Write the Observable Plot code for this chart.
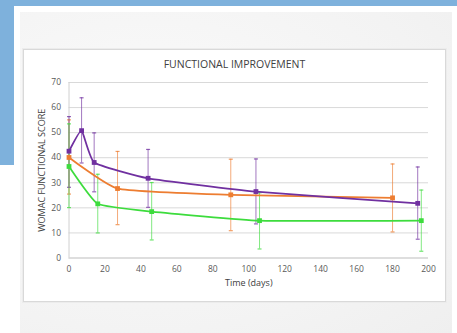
<!DOCTYPE html>
<html>
<head>
<meta charset="utf-8">
<script src="https://cdn.jsdelivr.net/npm/d3@7"></script>
<script src="https://cdn.jsdelivr.net/npm/@observablehq/plot@0.6"></script>
<style>
  html, body { margin: 0; padding: 0; background: #ffffff; }
  #page { position: relative; width: 457px; height: 333px; overflow: hidden; background: #ffffff; font-family: "Open Sans", sans-serif; }
  .blue-top { position: absolute; left: 0; top: 0; width: 457px; height: 6px; background: #7eb1dc; }
  .blue-left { position: absolute; left: 0; top: 0; width: 14px; height: 165px; background: #7eb1dc; }
  .card { position: absolute; left: 20px; top: 12px; width: 432px; height: 321px;
          background: radial-gradient(ellipse at 30% 40%, #fbfbfb 0%, #f3f3f3 70%, #efefef 100%); }
  .box { position: absolute; left: 23px; top: 49px; width: 421px; height: 251px; background: #ffffff;
         border: 1px solid #d9d9d9; box-shadow: 0 0 0 1px #ececec; }
  .title { position: absolute; left: 23px; top: 57px; width: 423px; text-align: center;
           font-size: 10.5px; color: #404040; letter-spacing: 0px; }
  #chart { position: absolute; left: 23px; top: 49px; }
</style>
</head>
<body>
<div id="page">
  <div class="blue-top"></div>
  <div class="blue-left"></div>
  <div class="card"></div>
  <div class="box"></div>
  <div class="title">FUNCTIONAL IMPROVEMENT</div>
  <div id="chart"></div>
</div>
<script>
// ---- data ----
const purpleDays  = [0, 7, 14, 44, 104, 194];
const purpleScore = [42.6, 50.8, 38.1, 31.8, 26.5, 21.8];
const purpleHigh  = [56.4, 63.9, 49.9, 43.3, 39.5, 36.3];
const purpleLow   = [28.2, 37.9, 26.4, 20.2, 13.6, 7.5];

const orangeDays  = [0, 27, 90, 180];
const orangeScore = [40.1, 27.7, 25.2, 24.0];
const orangeHigh  = [55.1, 42.5, 39.4, 37.5];
const orangeLow   = [25.5, 13.3, 10.9, 10.4];

const greenDays   = [0, 16, 46, 106, 196];
const greenScore  = [36.5, 21.6, 18.5, 14.9, 14.9];
const greenHigh   = [53.5, 33.4, 30.1, 26.0, 27.1];
const greenLow    = [20.1, 10.0, 7.2, 3.6, 2.7];

const yTicks = [0, 10, 20, 30, 40, 50, 60, 70];
const xTicks = [0, 20, 40, 60, 80, 100, 120, 140, 160, 180, 200];
const yTitle = "WOMAC FUNCTIONAL SCORE";
const xTitle = "Time (days)";

const seriesDefs = [
  {name: "orange", color: "#ed7d31", days: orangeDays, score: orangeScore, high: orangeHigh, low: orangeLow},
  {name: "purple", color: "#7030a0", days: purpleDays, score: purpleScore, high: purpleHigh, low: purpleLow},
  {name: "green",  color: "#3ddc3d", days: greenDays,  score: greenScore,  high: greenHigh,  low: greenLow}
];

function rows(s) {
  return s.days.map((d, i) => ({day: d, score: s.score[i], high: s.high[i], low: s.low[i]}));
}

const cap = {draw(ctx) { ctx.moveTo(-2, 0); ctx.lineTo(2, 0); }};

const marks = [
  Plot.gridY(yTicks, {stroke: "#d9d9d9", strokeOpacity: 1, strokeWidth: 1}),
  Plot.ruleX([0], {stroke: "#d0d0d0", strokeWidth: 1}),
  Plot.ruleY([0], {stroke: "#d0d0d0", strokeWidth: 1}),
  Plot.axisY(yTicks, {tickSize: 0, tickPadding: 8, fontSize: 8.5, fill: "#595959", label: null}),
  Plot.text([yTitle], {frameAnchor: "left", rotate: -90, dx: -26.5, fontSize: 9, fill: "#404040", textAnchor: "middle"}),
  Plot.axisX(xTicks, {tickSize: 0, tickPadding: 8, fontSize: 8.5, fill: "#595959", label: null}),
  Plot.text([xTitle], {frameAnchor: "bottom", dy: 27.5, fontSize: 9, fill: "#404040", textAnchor: "middle"})
];

for (const s of seriesDefs) {
  const data = rows(s);
  marks.push(
    Plot.ruleX(data, {x: "day", y1: "low", y2: "high", stroke: s.color, strokeOpacity: 0.65, strokeWidth: 1}),
    Plot.dot(data, {x: "day", y: "high", symbol: cap, r: 2, stroke: s.color, strokeOpacity: 0.75, strokeWidth: 1.2}),
    Plot.dot(data, {x: "day", y: "low", symbol: cap, r: 2, stroke: s.color, strokeOpacity: 0.75, strokeWidth: 1.2})
  );
}
for (const s of seriesDefs) {
  const data = rows(s);
  marks.push(
    Plot.line(data, {x: "day", y: "score", stroke: s.color, strokeWidth: 1.75, curve: "cardinal", tension: 0.6}),
    Plot.dot(data, {x: "day", y: "score", symbol: "square", r: 2.7, fill: s.color, stroke: "none"})
  );
}

const chart = Plot.plot({
  width: 423,
  height: 253,
  marginLeft: 45.5,
  marginRight: 18,
  marginTop: 33,
  marginBottom: 44.5,
  style: {background: "transparent", fontFamily: "Open Sans, sans-serif", color: "#595959", overflow: "visible"},
  x: {domain: [0, 200], ticks: xTicks},
  y: {domain: [0, 70], ticks: yTicks},
  marks
});
document.getElementById("chart").appendChild(chart);
</script>
</body>
</html>
